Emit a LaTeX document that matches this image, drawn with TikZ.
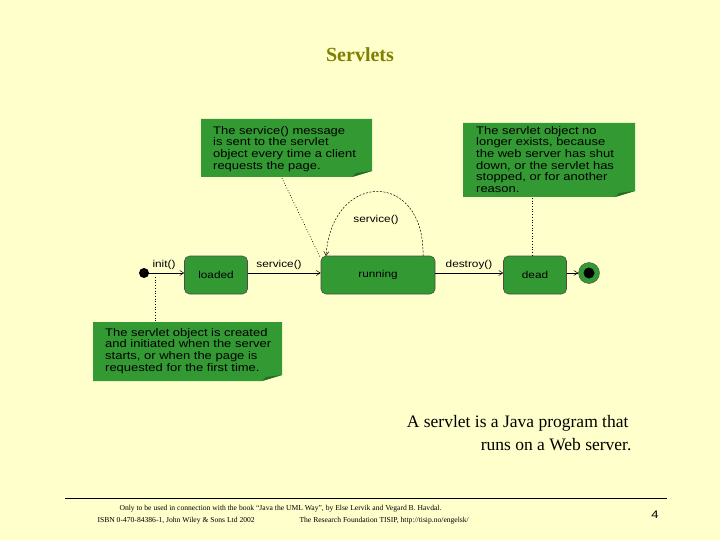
\documentclass[tikz,border=0pt]{standalone}
\usepackage{fontspec}
\setmainfont{Liberation Serif}
\newfontfamily\dsans[FakeStretch=1.18]{Liberation Sans}
\usetikzlibrary{arrows.meta}
\definecolor{bg}{HTML}{FFFFCC}
\definecolor{gr}{HTML}{339933}
\definecolor{ttl}{HTML}{808000}
\tikzset{
 st/.style={draw=black!70,fill=gr,rounded corners=5pt,line width=0.6pt},
 lbl/.style={font=\dsans\fontsize{10}{11}\selectfont},
 notetext/.style={font=\dsans\fontsize{11}{11.7}\selectfont,align=left,anchor=north west,inner sep=0pt},
 dot/.style={dotted,line width=0.7pt},
 arr/.style={-{Straight Barb[length=4pt,width=5pt]},line width=0.5pt},
}
\newcommand\notebox[4]{% x1,y1,x2,y2
 \fill[gr] (#1,#2) -- (#3,#2) -- (#3,#4-6) -- (#3-20,#4) -- (#1,#4) -- cycle;
 \fill[gr!70!black] (#3,#4-6) -- (#3-20,#4) -- (#3-16,#4-4) -- cycle;}
\begin{document}
\begin{tikzpicture}[x=1pt,y=-1pt]
\fill[bg] (0,0) rectangle (720,540);
\useasboundingbox (0,0) rectangle (720,540);
\node[font=\bfseries\fontsize{20}{24}\selectfont,text=ttl] (title) at (360,55) {Servlets};
% notes
\notebox{201}{119}{372}{177}
\node[notetext] (n1) at (213,126) {The service() message\\is sent to the servlet\\object every time a client\\requests the page.};
\notebox{463}{123}{635}{197}
\node[notetext] (n2) at (476,126) {The servlet object no\\longer exists, because\\the web server has shut\\down, or the servlet has\\stopped, or for another\\reason.};
\notebox{93}{322}{282}{381}
\node[notetext] (n3) at (105,328) {The servlet object is created\\and initiated when the server\\starts, or when the page is\\requested for the first time.};
% states
\node[st,minimum width=63pt,minimum height=38pt,lbl] (loaded) at (216,275) {loaded};
\node[st,minimum width=114pt,minimum height=38pt,lbl] (running) at (378,275) {running};
\node[st,minimum width=63pt,minimum height=38pt,lbl] (dead) at (535,275) {dead};
\fill (144,273) circle (5) coordinate (init);
\node[circle,draw=black!70,fill=gr,minimum size=21pt,inner sep=0pt] (fin) at (589,273) {};
\fill (fin) circle (5.5);
% transitions
\draw[arr] (init) -- (loaded.west |- init);
\node[lbl] (l1) at (164,265) {init()};
\draw[arr] (loaded.east |- init) -- (running.west |- init);
\node[lbl] (l2) at (279,265) {service()};
\draw[arr] (running.east |- init) -- (dead.west |- init);
\node[lbl] (l3) at (469,265) {destroy()};
\draw[arr] (dead.east |- init) -- (fin.west);
\coordinate (la) at (423,256);
\coordinate (lb) at (326,256);
\draw[arr,dash pattern=on 2pt off 1.5pt] (la) .. controls (425,170) and (332,170) .. (lb);
\node[lbl] (l4) at (376,220) {service()};
% note links
\coordinate (c1) at (282,178); \coordinate (c1b) at (320,257);
\draw[dot] (c1) -- (c1b);
\coordinate (c2) at (532,198); \coordinate (c2b) at (532,256);
\draw[dot] (c2) -- (c2b);
\coordinate (c3) at (155,277); \coordinate (c3b) at (155,322);
\draw[dot] (c3) -- (c3b);
% caption
\node[anchor=east,font=\fontsize{17.5}{20}\selectfont] (cap1) at (632,423) {A servlet is a Java program that};
\node[anchor=east,font=\fontsize{17.5}{20}\selectfont] (cap2) at (635,445) {runs on a Web server.};
% footer
\draw[line width=0.6pt] (65,498) -- (667,498);
\node[anchor=west,font=\fontsize{7.6}{8}\selectfont] (f1) at (116,509) {Only to be used in connection with the book ``Java the UML Way'', by Else Lervik and Vegard B. Havdal.};
\node[anchor=west,font=\fontsize{7.6}{8}\selectfont] (f2) at (94,521) {ISBN 0-470-84386-1, John Wiley \& Sons Ltd 2002};
\node[anchor=west,font=\fontsize{7.6}{8}\selectfont] (f3) at (296,521) {The Research Foundation TISIP, http://tisip.no/engelsk/};
\node[font=\dsans\fontsize{11}{12}\selectfont] (pg) at (655,515) {4};
\end{tikzpicture}
\end{document}
